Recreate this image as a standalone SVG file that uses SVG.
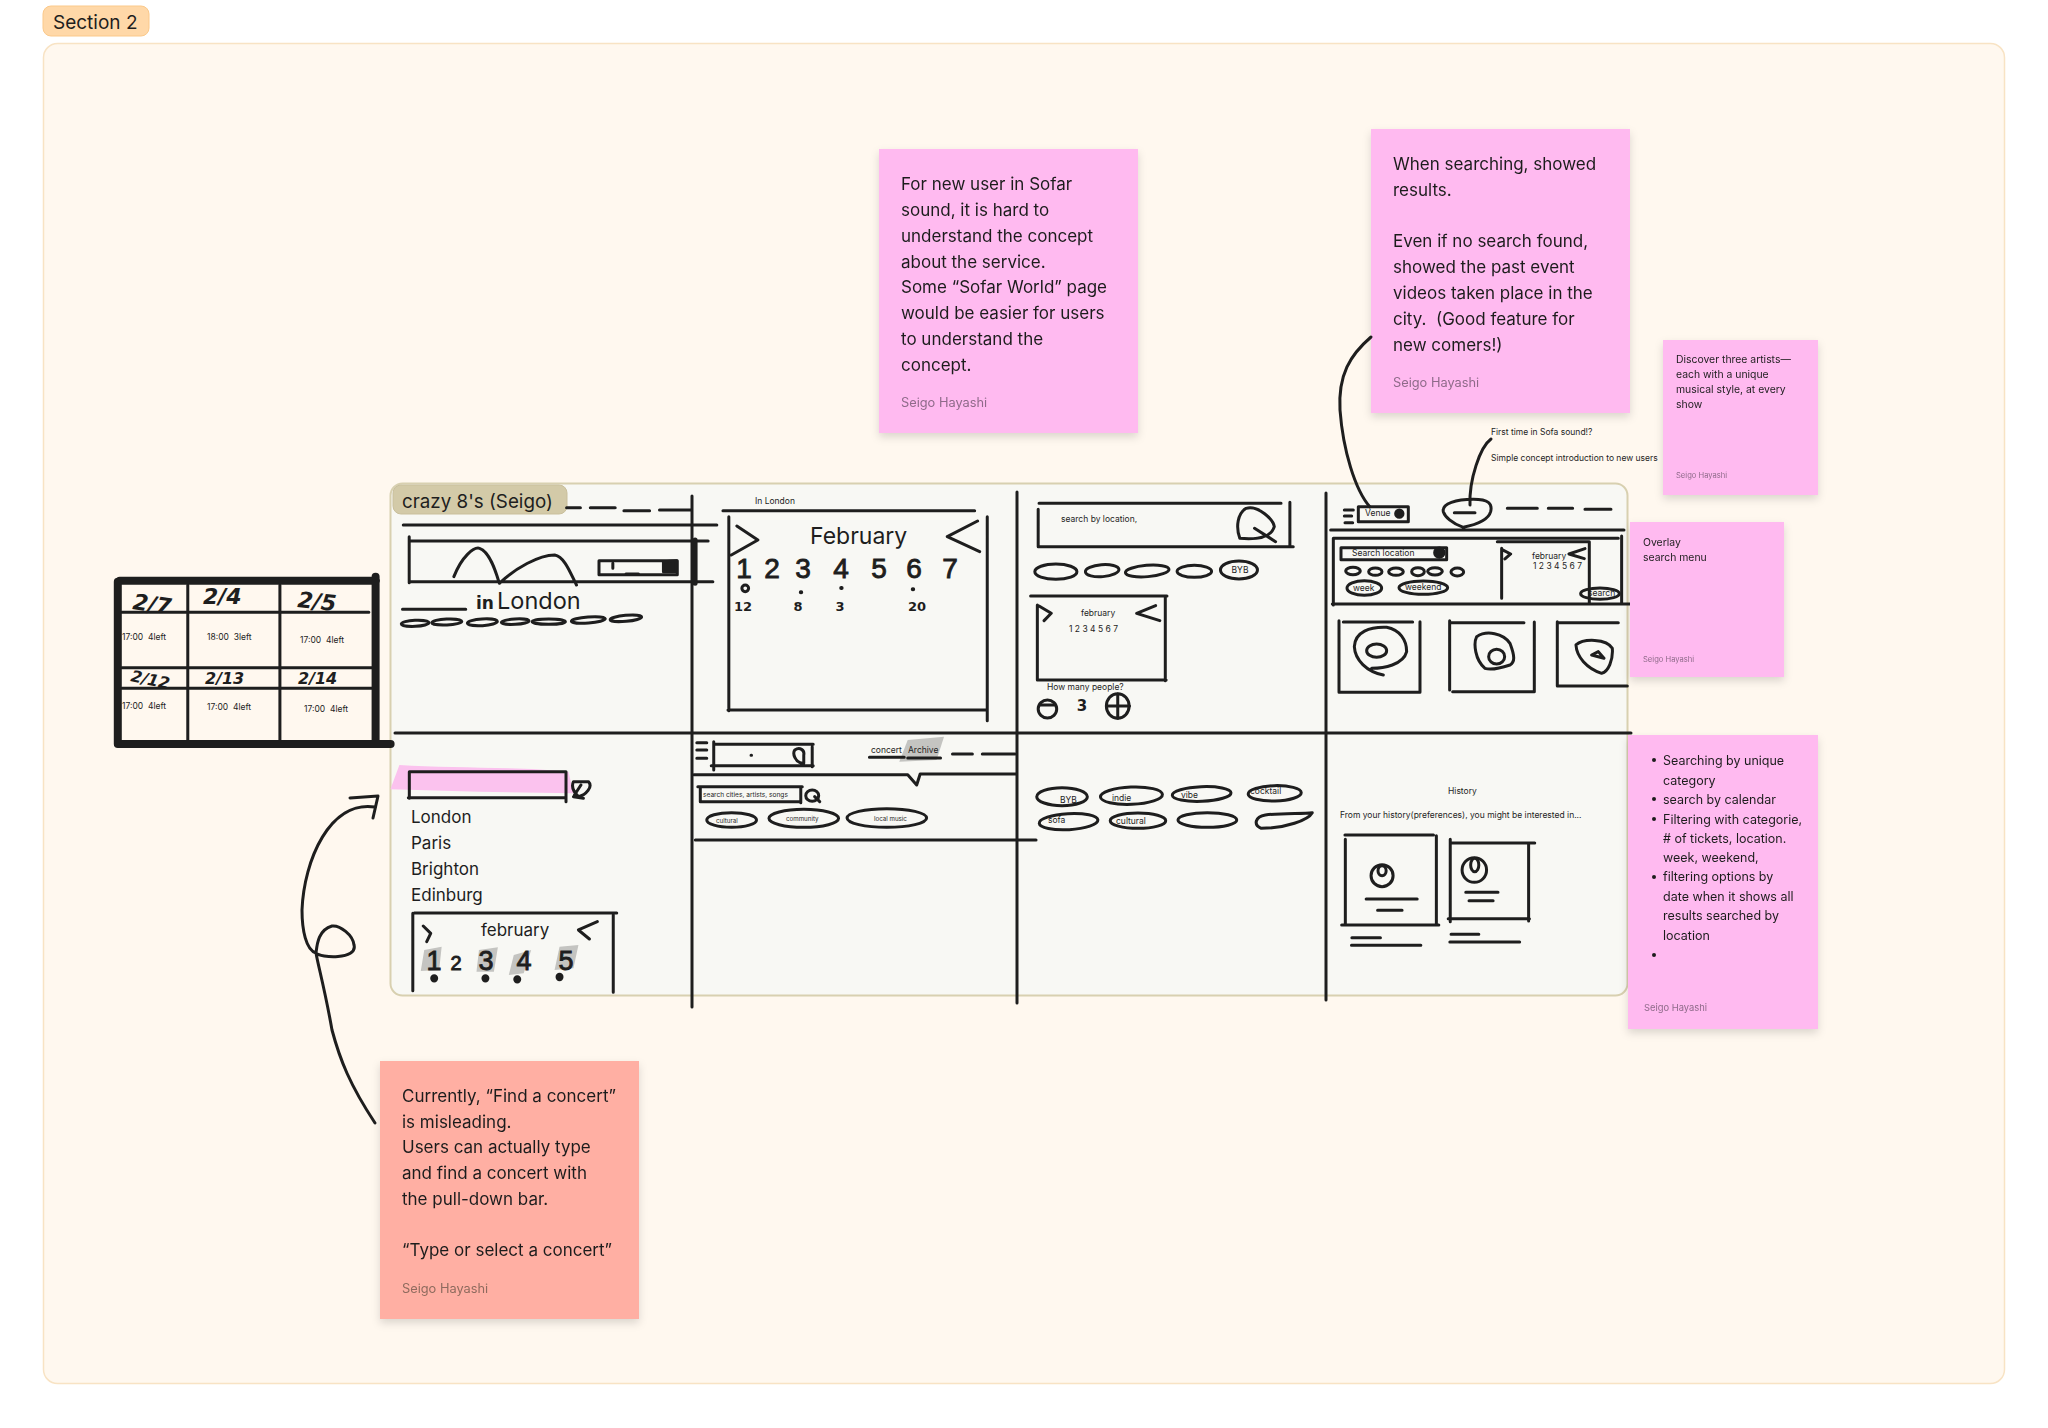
<svg xmlns="http://www.w3.org/2000/svg" width="2048" height="1428" viewBox="0 0 2048 1428">
<style>
text{font-family:Inter,"Noto Sans","Liberation Sans",sans-serif;fill:#1e1e1e;white-space:pre}
.s,.s *{fill:none;stroke:#1e1e1e;stroke-width:3;stroke-linecap:round;stroke-linejoin:round;vector-effect:non-scaling-stroke}
.th,.th *{stroke-width:8}
.sticky{filter:url(#sh)}
.t18{font-size:17px}.t9{font-size:8.500px}.a14{font-size:12.800px;fill:#8f6b8a}
.hand{font-family:"DejaVu Sans",sans-serif;font-weight:700;font-style:italic}
.hand2{font-family:"Liberation Sans",sans-serif;stroke:#1e1e1e;stroke-width:.9}
.gray{fill:#c4c4c1;stroke:none}
</style>
<defs><filter id="sh" x="-10%" y="-10%" width="120%" height="125%"><feDropShadow dx="0" dy="4" stdDeviation="4" flood-color="#000" flood-opacity=".14"/></filter></defs>
<rect width="2048" height="1428" fill="#fff"/>
<g id="section">
<rect x="43.500" y="43.500" width="1961" height="1340" rx="14" fill="#fff8ef" stroke="#f8e3c4" stroke-width="1.500"/>
<rect x="43" y="6" width="106" height="30" rx="8" fill="#ffd8a8" stroke="#fbc98a"/>
<text x="53" y="29" font-size="19">Section 2</text>
</g>
<g id="frame">
<rect x="390.500" y="483.500" width="1237" height="512" rx="12" fill="#f8f8f4" stroke="#d8d0b0" stroke-width="2"/>
</g>
<g id="table">
<text x="122" y="640" class="t9">17:00  4left</text><text x="207" y="640" class="t9">18:00  3left</text><text x="300" y="643" class="t9">17:00  4left</text>
<text x="122" y="709" class="t9">17:00  4left</text><text x="207" y="710" class="t9">17:00  4left</text><text x="304" y="712" class="t9">17:00  4left</text>
<g class="s" transform="translate(100,470) scale(.3954,.3333)"><path d="M222,345V810M455,345V810M55,427H680M55,593H690M55,655H690"/></g>
<g class="s th" transform="translate(100,470) scale(.3954,.3333)"><path d="M45,335V822M50,332H698M697,320V820M45,822H735"/></g>
<text x="132" y="609" class="hand" font-size="22" transform="rotate(8 132 609)">2/7</text>
<text x="203" y="604" class="hand" font-size="22">2/4</text><text x="297" y="607" class="hand" font-size="22" transform="rotate(6 297 607)">2/5</text>
<text x="130" y="681" class="hand" font-size="16" transform="rotate(12 130 681)">2/12</text>
<text x="205" y="684" class="hand" font-size="16">2/13</text><text x="298" y="684" class="hand" font-size="16">2/14</text>
</g>
<g id="sketch-1">
<rect x="393" y="485" width="174" height="29" rx="8" fill="#d3caa8" stroke="#c9bf9c"/>
<text x="402" y="508" font-size="18.800">crazy 8's (Seigo)</text>
<g class="s" transform="translate(100,470) scale(.3954,.3333)"><path d="M1180,113H1215M1240,113H1303M1325,122H1390M1415,120H1495M767,165H1560M782,200V338M782,213H1538M785,335H1550M895,320C915,260 945,230 960,235C985,245 1000,300 1010,340C1050,295 1110,255 1150,255C1175,260 1190,310 1205,345M1262,272H1460V314H1262ZM1297,280V295M1330,312H1362M765,418H925"/><path style="stroke-width:5" d="M1505,210V340"/><path style="fill:#1e1e1e" d="M1425,275L1458,272V305H1425Z"/><ellipse cx="797" cy="460" rx="35" ry="9" transform="rotate(-3 797 460)"/><ellipse cx="877" cy="456" rx="38" ry="9" transform="rotate(-3 877 456)"/><ellipse cx="967" cy="457" rx="38" ry="10" transform="rotate(-4 967 457)"/><ellipse cx="1050" cy="455" rx="35" ry="8" transform="rotate(-4 1050 455)"/><ellipse cx="1135" cy="455" rx="42" ry="8"/><ellipse cx="1235" cy="450" rx="43" ry="9" transform="rotate(-5 1235 450)"/><ellipse cx="1330" cy="445" rx="40" ry="9" transform="rotate(-6 1330 445)"/></g>
<text x="476" y="609" class="hand" font-size="17" style="font-style:normal">in</text><text x="497" y="609" font-size="23.500">London</text>
</g>
<g id="sketch-2">
<text x="755" y="504" class="t9">In London</text><text x="810" y="544" font-size="23">February</text>
<g class="s" transform="translate(680,470) scale(.4209,.3333)"><path d="M102,122H700M116,140V722M114,720H730M730,140V752M135,168L185,210L122,255M707,153L635,200L712,245"/><ellipse cx="155" cy="355" rx="8" ry="10"/><path style="stroke-width:4" d="M287,367h1M383,354h1M553,358h1"/></g>
<text class="hand2" font-size="28" text-anchor="middle" y="578"><tspan x="744">1</tspan><tspan x="772">2</tspan><tspan x="803">3</tspan><tspan x="841">4</tspan><tspan x="879">5</tspan><tspan x="914">6</tspan><tspan x="950">7</tspan></text>
<text class="hand" font-size="13" text-anchor="middle" y="611" style="font-style:normal"><tspan x="743">12</tspan><tspan x="798">8</tspan><tspan x="840">3</tspan><tspan x="917">20</tspan></text>
</g>
<g id="sketch-3">
<text x="1061" y="522" class="t9">search by location,</text><text x="1240" y="573" class="t9" text-anchor="middle">BYB</text><text x="1081" y="616" class="t9">february</text><text x="1069" y="632" font-size="8.500">1 2 3 4 5 6 7</text><text x="1047" y="690" class="t9">How many people?</text><text x="1082" y="711" class="hand" font-size="15" text-anchor="middle" style="font-style:normal">3</text>
<g class="s" transform="translate(680,470) scale(.4209,.3333)"><path d="M853,100H1428M851,118V230H1457M1449,97V228M1330,205C1320,170 1325,130 1345,115C1375,105 1410,150 1412,170C1405,200 1375,210 1330,205ZM1365,175L1415,215M833,378H1157M1153,378V632M849,405V630H1155M853,408L882,430L865,452M1130,407L1085,430L1140,452M855,705H890M1040,672V745M1015,708H1068"/><ellipse cx="893" cy="305" rx="50" ry="23"/><ellipse cx="1003" cy="302" rx="40" ry="18" transform="rotate(-6 1003 302)"/><ellipse cx="1110" cy="303" rx="52" ry="17" transform="rotate(-6 1110 303)"/><ellipse cx="1222" cy="304" rx="41" ry="18"/><ellipse cx="1328" cy="300" rx="44" ry="27"/><ellipse cx="873" cy="717" rx="22" ry="27"/><ellipse cx="1040" cy="708" rx="27" ry="37"/></g>
</g>
<g id="sketch-4">
<text x="1365" y="516" class="t9">Venue</text><text x="1352" y="556" class="t9">Search location</text><text x="1532" y="559" class="t9">february</text><text x="1533" y="569" font-size="8.500">1 2 3 4 5 6 7</text><text x="1353" y="591" class="t9">week</text><text x="1405" y="590" class="t9">weekend</text><text x="1588" y="596" class="t9">search</text>
<g class="s" transform="translate(1300,410) scale(.3333)"><path d="M175,290V335H325V290H175M133,300H160M133,318H155M135,338H158M430,305C425,280 470,268 520,268C565,268 578,280 572,305C565,330 525,345 490,352C455,340 435,320 430,305ZM463,308H525M622,295H712M745,295H818M855,298H933M92,360H972M100,385H955M100,385V585M97,582H990M965,378V580M123,413H440V449H123ZM592,395H868V580M605,415V565M605,418L632,432L615,447M855,416L807,432L853,446M117,632V847H360V635M130,636H338M250,795C200,785 165,750 163,710C165,665 210,650 260,652C300,660 320,690 320,725C310,765 250,775 215,775M449,632V840M458,845H703V636M450,638H672M555,775C525,750 520,700 530,680C560,660 610,670 630,700C645,740 645,755 630,765C600,775 570,780 555,775ZM772,635V828H982M772,638H955M905,790C860,775 830,740 828,705C850,685 920,685 937,715C940,750 925,785 905,790ZM875,735L895,725L912,745Z"/><ellipse cx="159" cy="483" rx="22" ry="11"/><ellipse cx="226" cy="485" rx="20" ry="11"/><ellipse cx="288" cy="485" rx="22" ry="11"/><ellipse cx="354" cy="485" rx="19" ry="12"/><ellipse cx="405" cy="484" rx="22" ry="11"/><ellipse cx="472" cy="486" rx="19" ry="12"/><ellipse cx="193" cy="534" rx="52" ry="22"/><ellipse cx="370" cy="533" rx="73" ry="20"/><ellipse cx="900" cy="551" rx="58" ry="17"/><ellipse cx="230" cy="722" rx="30" ry="20"/><ellipse cx="590" cy="740" rx="24" ry="22"/><circle cx="298" cy="311" r="11" style="fill:#1e1e1e"/><circle cx="418" cy="428" r="14" style="fill:#1e1e1e"/></g>
</g>
<g id="sketch-5">
<path fill="#fbc2ee" transform="translate(280,730) scale(.4974,.3333)" d="M240,105C340,115 480,110 580,125L590,190L400,185L222,178Z"/>
<path class="gray" transform="translate(280,730) scale(.4974,.3333)" d="M290,660L325,650L320,720L283,723ZM400,660L438,652L430,725L395,725ZM470,675L505,660L490,730L460,735ZM562,650L600,645L590,715L552,720Z"/>
<g class="s" transform="translate(280,730) scale(.4974,.3333)"><path d="M260,125H575M260,125V205M258,203H575M575,125V215M590,155H620C630,170 615,195 600,200C590,185 585,170 590,155ZM590,200L610,205M605,165L592,195M267,550V782M270,549H677M670,555V787M288,588L303,610L295,635M638,575L600,600L622,627"/><ellipse cx="310" cy="745" rx="5" ry="8" style="fill:#1e1e1e"/><ellipse cx="413" cy="745" rx="5" ry="8" style="fill:#1e1e1e"/><ellipse cx="477" cy="748" rx="5" ry="8" style="fill:#1e1e1e"/><ellipse cx="562" cy="741" rx="5" ry="8" style="fill:#1e1e1e"/></g>
<text x="411" y="823" class="t18">London</text><text x="411" y="849" class="t18">Paris</text><text x="411" y="875" class="t18">Brighton</text><text x="411" y="901" class="t18">Edinburg</text><text x="481" y="936" class="t18">february</text>
<text class="hand2" font-size="27" text-anchor="middle" y="970"><tspan x="434">1</tspan><tspan x="456" font-size="20">2</tspan><tspan x="486">3</tspan><tspan x="524">4</tspan><tspan x="566">5</tspan></text>
</g>
<g id="sketch-6">
<path class="gray" transform="translate(280,730) scale(.4974,.3333)" d="M1262,30L1335,20L1320,90L1245,95Z"/>
<text x="871" y="753" class="t9">concert</text><text x="908" y="753" class="t9">Archive</text><text x="703" y="797" font-size="6.600">search cities, artists, songs</text><text x="716" y="823" font-size="6.200">cultural</text><text x="786" y="821" font-size="6.200">community</text><text x="874" y="821" font-size="6.200">local music</text>
<g class="s" transform="translate(280,730) scale(.4974,.3333)"><path d="M838,38H858M838,60H858M838,85H858M872,35V120M872,43H1072M867,107H1072M1070,50V110M947,76h1M1050,100C1035,95 1030,70 1035,60C1045,50 1055,60 1053,75V100M1185,82H1255M1262,84H1328M1352,72H1392M1412,72H1478M832,134H1262L1280,165L1287,132H1480M840,170H1050M845,215H1047M845,175V215M1047,170V218M1075,200L1085,215M835,330H1520"/><ellipse cx="1070" cy="197" rx="13" ry="17"/><ellipse cx="908" cy="270" rx="50" ry="22"/><ellipse cx="1053" cy="265" rx="70" ry="27"/><ellipse cx="1220" cy="264" rx="80" ry="28"/></g>
</g>
<g id="sketch-7">
<g class="s" transform="translate(1000,730) scale(.4082,.3333)"><ellipse cx="152" cy="200" rx="62" ry="27"/><ellipse cx="322" cy="197" rx="76" ry="26" transform="rotate(-3 322 197)"/><ellipse cx="494" cy="192" rx="72" ry="22" transform="rotate(-3 494 192)"/><ellipse cx="673" cy="190" rx="65" ry="23" transform="rotate(-2 673 190)"/><ellipse cx="168" cy="275" rx="72" ry="24" transform="rotate(-4 168 275)"/><ellipse cx="338" cy="272" rx="68" ry="23"/><ellipse cx="508" cy="270" rx="72" ry="22"/><path d="M640,295C620,285 625,260 650,255C690,248 740,252 765,248C755,270 700,295 640,295Z"/></g>
<text x="1060" y="803" class="t9">BYB</text><text x="1112" y="801" class="t9">indie</text><text x="1181" y="798" class="t9">vibe</text><text x="1250" y="794" class="t9">cocktail</text><text x="1048" y="823" class="t9">sofa</text><text x="1116" y="824" class="t9">cultural</text>
</g>
<g id="sketch-8">
<text x="1448" y="794" class="t9">History</text><text x="1340" y="818" class="t9">From your history(preferences), you might be interested in...</text>
<g class="s" transform="translate(1000,730) scale(.4082,.3333)"><path d="M845,315H1062M846,328V585M837,585H1075M1069,317V585M897,507H1022M925,541H985M862,623H932M861,646H1031M1103,328V575M1103,339H1310M1098,566H1297M1295,340V573M1141,487H1220M1149,512H1208M1105,613H1173M1102,636H1273"/><ellipse cx="936" cy="437" rx="27" ry="33"/><ellipse cx="936" cy="422" rx="10" ry="15"/><ellipse cx="1162" cy="420" rx="30" ry="37"/><ellipse cx="1163" cy="405" rx="10" ry="20"/></g>
</g>
<g id="grid" class="s"><path d="M692,496V1007M1017,492V1003M1326,493V1000M395,733H1631"/></g>
<g id="sticky-sofar-world" class="sticky"><rect x="879" y="149" width="259" height="284" fill="#ffbaf0"/>
<text class="t18"><tspan x="901" y="190">For new user in Sofar</tspan><tspan x="901" y="216">sound, it is hard to</tspan><tspan x="901" y="242">understand the concept</tspan><tspan x="901" y="268">about the service.</tspan><tspan x="901" y="293">Some “Sofar World” page</tspan><tspan x="901" y="319">would be easier for users</tspan><tspan x="901" y="345">to understand the</tspan><tspan x="901" y="371">concept.</tspan></text><text x="901" y="407" class="a14">Seigo Hayashi</text></g>
<g id="sticky-search-results" class="sticky"><rect x="1371" y="129" width="259" height="284" fill="#ffbaf0"/>
<text class="t18"><tspan x="1393" y="170">When searching, showed</tspan><tspan x="1393" y="196">results.</tspan><tspan x="1393" y="247">Even if no search found,</tspan><tspan x="1393" y="273">showed the past event</tspan><tspan x="1393" y="299">videos taken place in the</tspan><tspan x="1393" y="325">city.  (Good feature for</tspan><tspan x="1393" y="351">new comers!)</tspan></text><text x="1393" y="387" class="a14">Seigo Hayashi</text></g>
<g id="sticky-find-concert" class="sticky"><rect x="380" y="1061" width="259" height="258" fill="#ffafa3"/>
<text class="t18"><tspan x="402" y="1102">Currently, “Find a concert”</tspan><tspan x="402" y="1128">is misleading.</tspan><tspan x="402" y="1153">Users can actually type</tspan><tspan x="402" y="1179">and find a concert with</tspan><tspan x="402" y="1205">the pull-down bar.</tspan><tspan x="402" y="1256">“Type or select a concert”</tspan></text><text x="402" y="1293" class="a14" style="fill:#8f6b5e">Seigo Hayashi</text></g>
<g id="sticky-discover" class="sticky"><rect x="1663" y="340" width="155" height="155" fill="#ffbaf0"/>
<text font-size="10.400"><tspan x="1676" y="363">Discover three artists—</tspan><tspan x="1676" y="378">each with a unique</tspan><tspan x="1676" y="393">musical style, at every</tspan><tspan x="1676" y="408">show</tspan></text><text x="1676" y="478" font-size="7.600" style="fill:#8f6b8a">Seigo Hayashi</text></g>
<g id="sticky-overlay" class="sticky"><rect x="1630" y="522" width="154" height="155" fill="#ffbaf0"/>
<text font-size="10.400"><tspan x="1643" y="546">Overlay</tspan><tspan x="1643" y="561">search menu</tspan></text><text x="1643" y="662" font-size="7.600" style="fill:#8f6b8a">Seigo Hayashi</text></g>
<g id="sticky-filters" class="sticky"><rect x="1628" y="735" width="190" height="294" fill="#ffbaf0"/>
<text font-size="12.500"><tspan x="1663" y="765">Searching by unique</tspan><tspan x="1663" y="785">category</tspan><tspan x="1663" y="804">search by calendar</tspan><tspan x="1663" y="824">Filtering with categorie,</tspan><tspan x="1663" y="843"># of tickets, location.</tspan><tspan x="1663" y="862">week, weekend,</tspan><tspan x="1663" y="881">filtering options by</tspan><tspan x="1663" y="901">date when it shows all</tspan><tspan x="1663" y="920">results searched by</tspan><tspan x="1663" y="940">location</tspan></text>
<g fill="#1e1e1e"><circle cx="1654" cy="760" r="2"/><circle cx="1654" cy="799" r="2"/><circle cx="1654" cy="819" r="2"/><circle cx="1654" cy="877" r="2"/><circle cx="1654" cy="955" r="2"/></g><text x="1644" y="1011" font-size="9.400" style="fill:#8f6b8a">Seigo Hayashi</text></g>
<g id="note-intro"><text x="1491" y="435" class="t9">First time in Sofa sound!?</text><text x="1491" y="461" class="t9">Simple concept introduction to new users</text></g>
<g id="connectors" class="s">
<path d="M1371,337C1350,355 1338,375 1340,410C1343,450 1355,490 1370,507"/>
<path d="M1491,439C1480,447 1469,480 1470,505"/>
<path d="M375,1123C350,1085 340,1060 332,1030C325,990 318,965 316,953C320,958 358,960 354,945C353,935 340,925 332,926C318,930 317,945 316,953C306,950 302,930 302,910C304,860 330,800 375,807"/>
<path d="M350,798L378,796L373,818"/>
</g>
</svg>
